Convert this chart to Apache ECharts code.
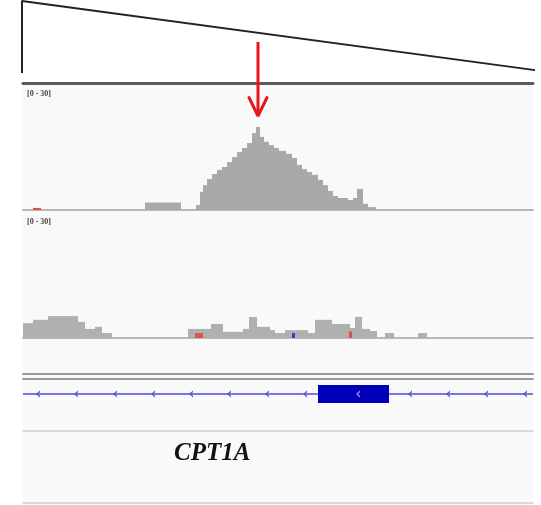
<!DOCTYPE html>
<html>
<head>
<meta charset="utf-8">
<script src="https://cdn.jsdelivr.net/npm/echarts@6/dist/echarts.min.js"></script>
<style>html,body{margin:0;padding:0;background:#fff;}#c{width:541px;height:505px;}</style>
</head>
<body>
<div id="c"></div>
<script>
// ---- data (positions in locus units, 0..510) ----
const locusMax = 510;
const trackRangeLabel = "[0 - 30]";
const trackMax = 30;
const geneName = "CPT1A";

// scale triangle (normalized)
const triX = [0, 0, 1];
const triY = [0, 1, 0.04];

// red arrow marking the summit
const peakPos = 235;

// track 1 coverage bins
const t1Start = [122,173,177,180,184,189,194,199,204,209,214,219,224,229,233,237,241,246,251,256,263,269,274,279,284,289,295,300,305,310,315,325,330,334,340,345];
const t1End   = [158,177,180,184,189,194,199,204,209,214,219,224,229,233,237,241,246,251,256,263,269,274,279,284,289,295,300,305,310,315,325,330,334,340,345,353];
const t1Value = [1.8,1.2,4.4,6.0,7.5,8.7,9.7,10.4,11.6,12.8,14.0,15.0,16.2,18.6,20.1,17.7,16.5,15.7,15.0,14.3,13.6,12.6,10.9,9.9,9.2,8.5,7.3,6.0,4.6,3.4,2.9,2.4,2.9,5.1,1.5,0.7];
// track 1 mismatch marks
const t1MisStart = [10];
const t1MisEnd   = [18];
const t1MisValue = [0.5];

// track 2 coverage bins
const t2Start = [0,10,25,55,62,72,79,165,188,200,220,226,234,247,252,262,285,292,309,327,332,339,347,362,395];
const t2End   = [10,25,55,62,72,79,89,188,200,220,226,234,247,252,262,285,292,309,327,332,339,347,354,371,404];
const t2Value = [3.6,4.4,5.3,3.9,2.2,2.7,1.2,2.2,3.4,1.5,2.2,5.1,2.7,1.9,1.2,1.9,1.2,4.4,3.4,2.4,5.1,2.2,1.7,1.2,1.2];
// track 2 mismatch marks
const t2MisStart = [172,269,326];
const t2MisEnd   = [180,272,329];
const t2MisValue = [1.2,1.2,1.6];
const t2MisColor = ['#d9534f','#3a3ad0','#d9534f'];

// gene model
const intronStart = 0, intronEnd = 510;
const strandMarks = [15,53,92,130,168,206,244,282,387,425,463,502];
const exonStart = [295];
const exonEnd = [366];
const exonMarks = [335];

function bins(s, e, v) { return s.map((x, i) => [x, e[i], v[i], i]); }

function rectRender(colorFn) {
  return function (params, api) {
    const p0 = api.coord([api.value(0), api.value(2)]);
    const p1 = api.coord([api.value(1), 0]);
    return {
      type: 'rect',
      shape: { x: p0[0], y: p0[1], width: p1[0] - p0[0], height: p1[1] - p0[1] },
      style: { fill: colorFn(api.value(3)) }
    };
  };
}

const hiddenX = (gi, min, max) => ({ gridIndex: gi, type: 'value', min: min, max: max, show: false });
const lineX = (gi, pos, color, width, offset) => ({
  gridIndex: gi, type: 'value', min: 0, max: locusMax, position: pos, offset: offset || 0,
  axisLine: { show: true, onZero: false, lineStyle: { color: color, width: width } },
  axisTick: { show: false }, axisLabel: { show: false }, splitLine: { show: false }
});
const hiddenY = (gi, min, max) => ({ gridIndex: gi, type: 'value', min: min, max: max, show: false });

const chart = echarts.init(document.getElementById('c'), null, { renderer: 'canvas' });
chart.setOption({
  animation: false,
  backgroundColor: '#ffffff',
  title: [
    { text: trackRangeLabel, left: 27, top: 90, padding: 0, textStyle: { fontSize: 8, fontFamily: 'Liberation Serif', fontWeight: 'bold', color: '#444' } },
    { text: trackRangeLabel, left: 27, top: 218, padding: 0, textStyle: { fontSize: 8, fontFamily: 'Liberation Serif', fontWeight: 'bold', color: '#444' } },
    { text: geneName, left: 174, top: 441, padding: 0, textStyle: { fontSize: 25, fontFamily: 'Liberation Serif', fontStyle: 'italic', fontWeight: 'bold', color: '#111' } }
  ],
  grid: [
    { left: 22, top: 1, width: 513, height: 72 },                       // 0 triangle
    { left: 23, top: 42, width: 510, height: 74 },                      // 1 arrow
    { left: 23, top: 86, width: 510, height: 124 },                     // 2 track 1
    { left: 23, top: 214, width: 510, height: 124 },                    // 3 track 2
    { left: 23, top: 374, width: 510, height: 5 },                      // 4 separator
    { left: 23, top: 385, width: 510, height: 18 },                     // 5 gene
    { left: 23, top: 431, width: 510, height: 72 },                     // 6 name panel
    { left: 23, top: 84, width: 510, height: 421, show: true, backgroundColor: '#f9f9f9', borderWidth: 0, z: -1 } // 7 background
  ],
  xAxis: [
    hiddenX(0, 0, 1),
    hiddenX(1, 0, locusMax),
    lineX(2, 'top', '#5c5c5c', 3, 3),
    lineX(2, 'bottom', '#b8b8b8', 2),
    lineX(3, 'bottom', '#b8b8b8', 2),
    lineX(4, 'top', '#9a9a9a', 2),
    lineX(4, 'bottom', '#9a9a9a', 2),
    hiddenX(5, 0, locusMax),
    lineX(6, 'top', '#cfcfcf', 1.5),
    lineX(6, 'bottom', '#cfcfcf', 1.5),
    hiddenX(7, 0, 1)
  ],
  yAxis: [
    hiddenY(0, 0, 1),
    hiddenY(1, 0, 1),
    hiddenY(2, 0, trackMax),
    hiddenY(3, 0, trackMax),
    hiddenY(4, 0, 1),
    hiddenY(5, 0, 1),
    hiddenY(6, 0, 1),
    hiddenY(7, 0, 1)
  ],
  series: [
    { type: 'line', xAxisIndex: 0, yAxisIndex: 0, symbol: 'none', silent: true,
      data: triX.map((x, i) => [x, triY[i]]), lineStyle: { color: '#222', width: 2 } },
    { type: 'line', xAxisIndex: 1, yAxisIndex: 1, symbol: 'none', silent: true, z: 10,
      data: [[peakPos, 1], [peakPos, 0.03]], lineStyle: { color: '#e8161c', width: 3 } },
    { type: 'line', xAxisIndex: 1, yAxisIndex: 1, symbol: 'none', silent: true, z: 10,
      data: [[peakPos - 9, 0.25], [peakPos, 0], [peakPos + 9, 0.25]], lineStyle: { color: '#e8161c', width: 3, cap: 'round' } },
    { type: 'custom', xAxisIndex: 3, yAxisIndex: 2, silent: true, clip: false,
      encode: { x: [0, 1], y: 2 }, data: bins(t1Start, t1End, t1Value), renderItem: rectRender(() => '#a9a9a9') },
    { type: 'custom', xAxisIndex: 3, yAxisIndex: 2, silent: true,
      encode: { x: [0, 1], y: 2 }, data: bins(t1MisStart, t1MisEnd, t1MisValue), renderItem: rectRender(() => '#d9534f') },
    { type: 'custom', xAxisIndex: 4, yAxisIndex: 3, silent: true,
      encode: { x: [0, 1], y: 2 }, data: bins(t2Start, t2End, t2Value), renderItem: rectRender(() => '#b0b0b0') },
    { type: 'custom', xAxisIndex: 4, yAxisIndex: 3, silent: true, z: 3,
      encode: { x: [0, 1], y: 2 }, data: bins(t2MisStart, t2MisEnd, t2MisValue), renderItem: rectRender(i => t2MisColor[i]) },
    { type: 'line', xAxisIndex: 7, yAxisIndex: 5, symbol: 'none', silent: true,
      data: [[intronStart, 0.5], [intronEnd, 0.5]], lineStyle: { color: '#4b4bdc', width: 1.5 } },
    { type: 'scatter', xAxisIndex: 7, yAxisIndex: 5, silent: true,
      symbol: 'path://M8,0 L0,5 L8,10 L8,7.5 L3.5,5 L8,2.5 Z', symbolSize: [4, 7],
      itemStyle: { color: '#2a2ac8' }, data: strandMarks.map(x => [x, 0.5]) },
    { type: 'custom', xAxisIndex: 7, yAxisIndex: 5, silent: true, z: 4,
      encode: { x: [0, 1] }, data: exonStart.map((s, i) => [s, exonEnd[i], 1, i]),
      renderItem: function (params, api) {
        const p0 = api.coord([api.value(0), 1]);
        const p1 = api.coord([api.value(1), 0]);
        return { type: 'rect', shape: { x: p0[0], y: p0[1], width: p1[0] - p0[0], height: p1[1] - p0[1] }, style: { fill: '#0000b8' } };
      } },
    { type: 'scatter', xAxisIndex: 7, yAxisIndex: 5, silent: true, z: 5,
      symbol: 'path://M8,0 L0,5 L8,10 L8,7.5 L3.5,5 L8,2.5 Z', symbolSize: [4, 7],
      itemStyle: { color: '#c8c8ff' }, data: exonMarks.map(x => [x, 0.5]) }
  ]
});
</script>
</body>
</html>
